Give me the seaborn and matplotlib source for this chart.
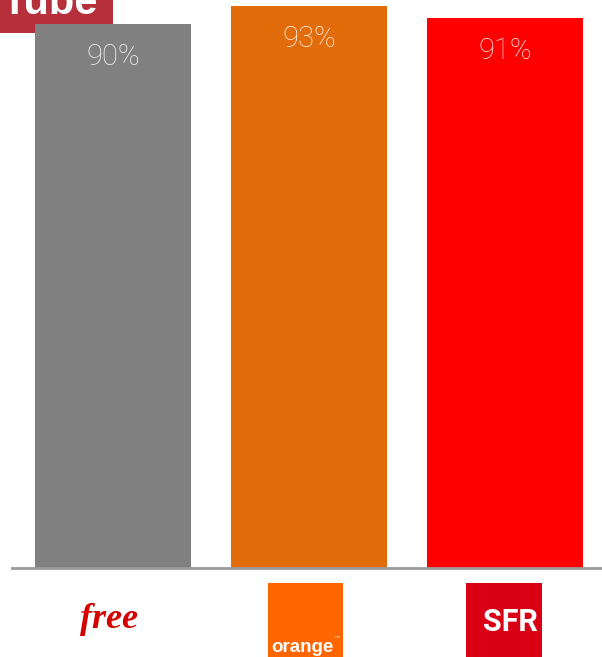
import matplotlib
matplotlib.use("Agg")
import matplotlib.pyplot as plt
import seaborn as sns
import pandas as pd
from matplotlib.patches import FancyBboxPatch, Rectangle

# données
operators = ["Free", "Orange", "SFR"]
values = [90, 93, 91]
bar_colors = ["#808080", "#E36C0A", "#FF0000"]

W, H = 602, 657
sns.set_theme(style="white")
plt.rcParams['font.family'] = ['Roboto', 'DejaVu Sans']

fig = plt.figure(figsize=(W / 100, H / 100), dpi=100)

# axes: baseline at y=568 px, left edge at 12 px
ax = fig.add_axes([12 / W, (H - 568) / H, (W - 12) / W, 568 / H])
ax.patch.set_alpha(0)

df = pd.DataFrame({"op": operators, "val": values})
sns.barplot(data=df, x="op", y="val", hue="op", palette=bar_colors,
            width=0.796, legend=False, ax=ax, saturation=1, linewidth=0)

ax.set_xlim(-0.515, 2.495)
ax.set_ylim(0, 94.0)
ax.set_xlabel("")
ax.set_ylabel("")
ax.set_xticks([])
ax.set_yticks([])
for s in ["top", "right", "left"]:
    ax.spines[s].set_visible(False)
ax.spines["bottom"].set_color("#9a9a9a")
ax.spines["bottom"].set_linewidth(2)

# étiquettes en blanc dans les barres
for i, v in enumerate(values):
    ax.text(i, v - 5.5, f"{v}%", ha="center", va="center", color="white",
            alpha=0.92, fontsize=21, fontweight="light")

# logo YouTube (coupé en haut à gauche)
def fx(px):
    return px / W

def fy(py):
    return (H - py) / H

yt = FancyBboxPatch((fx(-10), fy(33)), fx(123), fy(-30) - fy(33),
                    boxstyle="round,pad=0,rounding_size=0.012",
                    transform=fig.transFigure, facecolor="#B5303A",
                    edgecolor="none", zorder=-1)
fig.patches.append(yt)
fig.text(fx(2), fy(14), "Tube", color="white", fontsize=30, fontweight="bold",
         family=["Liberation Sans", "DejaVu Sans"], va="baseline", ha="left",
         zorder=-0.5)

# logos des opérateurs
fig.text(fx(109), fy(619), "free", color="#D50000", fontsize=26,
         family=["Liberation Serif", "DejaVu Serif"], style="italic",
         fontweight="bold", ha="center", va="center")

fig.patches.append(Rectangle((fx(268), fy(660)), fx(75), fy(583) - fy(660),
                             transform=fig.transFigure, facecolor="#FF6600",
                             edgecolor="none"))
fig.text(fx(271), fy(647), "orange", color="white", fontsize=13.5,
         fontweight="bold", family=["Liberation Sans", "DejaVu Sans"],
         ha="left", va="center")
fig.text(fx(334), fy(638), "™", color="white", fontsize=5,
         family=["DejaVu Sans"], ha="left", va="center")

fig.patches.append(Rectangle((fx(466), fy(660)), fx(76), fy(583) - fy(660),
                             transform=fig.transFigure, facecolor="#D90016",
                             edgecolor="none"))
fig.text(fx(510), fy(622), "SFR", color="white", fontsize=22,
         fontweight="bold", family=["Roboto", "DejaVu Sans"],
         ha="center", va="center")

fig.savefig("out.png", dpi=100)
